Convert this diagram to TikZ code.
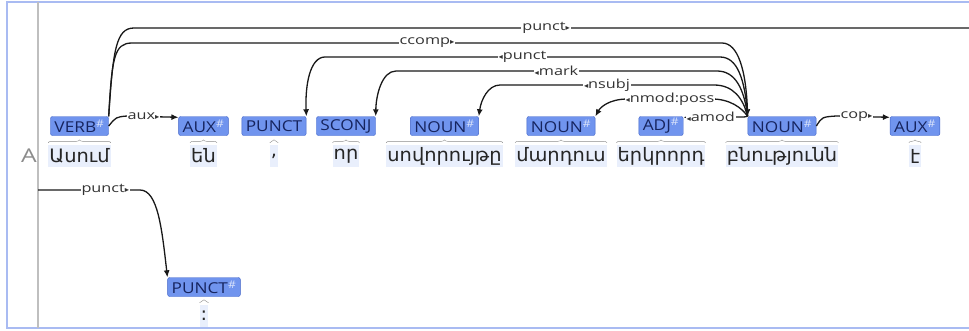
\documentclass[tikz,border=0pt]{standalone}
\usepackage{fontspec}
\setmainfont{Open Sans}[FakeStretch=1.3]
\newfontfamily\tagfont{Open Sans}[FakeStretch=1.15]
\newfontfamily\armfont{DejaVu Sans}[FakeStretch=1.05]
\usetikzlibrary{arrows.meta,decorations.pathreplacing}

\definecolor{tagfill}{HTML}{7094EE}
\definecolor{tagline}{HTML}{3F62C8}
\definecolor{tagtext}{HTML}{16245E}
\definecolor{wordbg}{HTML}{E9EFFC}
\definecolor{framec}{HTML}{A9BBF2}
\definecolor{deplbl}{HTML}{333333}

\newcommand{\hsh}{\textsuperscript{\color{white!75!tagfill}\#}}
\newcommand{\rdir}{{\armfont\footnotesize ▸}}
\newcommand{\ldir}{{\armfont\footnotesize ◂}}

\tikzset{
  tag/.style={draw=tagline, fill=tagfill, text=tagtext, rounded corners=2pt,
    font=\tagfont\fontsize{15}{15}\selectfont, inner xsep=4pt, inner ysep=0pt, minimum height=19pt},
  word/.style={fill=wordbg, text=black!85, font=\armfont\fontsize{18.5}{18.5}\selectfont,
    inner xsep=1pt, inner ysep=2pt, minimum height=22pt},
  wbrace/.style={draw=black!45, decorate, decoration={brace, amplitude=3pt}},
  dep/.style={draw=black!90, line width=1.3pt, -{Latex[length=7pt,width=6pt]}},
  lbl/.style={fill=white, text=deplbl, font=\fontsize{12.5}{12.5}\selectfont, inner sep=1pt},
}

\begin{document}
\begin{tikzpicture}[x=1pt, y=-1pt]
\useasboundingbox (0,0) rectangle (969,330);

% frame and row marker
\draw[framec, line width=1.2pt] (975,2) -- (7,2) -- (7,328) -- (975,328);
\draw[black!25, line width=2pt] (38,2) -- (38,328);
\node[text=black!45, font=\fontsize{19}{19}\selectfont] (rowA) at (29,156) {A};
\coordinate (rootL) at (38,190);
\coordinate (wrapR) at (975,28);

% tags
\node[tag] (verb) at (79.5,126) {VERB\hsh};
\node[tag] (auxA) at (203.5,126) {AUX\hsh};
\node[tag] (punct) at (274,126) {PUNCT};
\node[tag] (sconj) at (346,126) {SCONJ};
\node[tag] (noun1) at (444.5,126) {NOUN\hsh};
\node[tag] (noun2) at (561,126) {NOUN\hsh};
\node[tag] (adj) at (661,126) {ADJ\hsh};
\node[tag] (nounC) at (782,126) {NOUN\hsh};
\node[tag] (auxB) at (915,126) {AUX\hsh};
\node[tag] (punctB) at (204,287) {PUNCT\hsh};

% words
\foreach \t/\w in {verb/Ասում, auxA/են, punct/{,}, sconj/որ, noun1/սովորույթը,
    noun2/մարդուս, adj/երկրորդ, nounC/բնությունն, auxB/է}
  \node[word] (w\t) at (\t |- 0,156) {\w};
\node[word] (wpunctB) at (punctB |- 0,316) {:};
\foreach \t in {verb,auxA,punct,sconj,noun1,noun2,adj,nounC,auxB,punctB}
  \draw[wbrace] ([yshift=2pt]w\t.north west) -- ([yshift=2pt]w\t.north east);

% dependencies
\draw[dep, -] (verb.north east) .. controls (113,50) and (116,28) .. (134,28)
  -- node[lbl, pos=0.49]{punct\rdir} (wrapR);
\draw[dep] (verb.north east) .. controls (112,58) and (114,43) .. (132,43)
  -- node[lbl]{ccomp\rdir} (722,43) .. controls (738,43) and (746,70) .. (nounC.north west);
\draw[dep] (nounC.north west) .. controls (745,78) and (737,57) .. (720,57)
  -- node[lbl]{\ldir punct} (325,57) .. controls (310,57) and (305,85) .. (punct.north east);
\draw[dep] (nounC.north west) .. controls (744,88) and (735,71) .. (717,71)
  -- node[lbl]{\ldir mark} (396,71) .. controls (382,71) and (376,95) .. (sconj.north east);
\draw[dep] (nounC.north west) .. controls (743,98) and (733,85) .. (714,85)
  -- node[lbl]{\ldir nsubj} (500,85) .. controls (488,85) and (481,100) .. (noun1.north east);
\draw[dep] (nounC.north west) .. controls (742,108) and (730,99) .. (712,99)
  -- node[lbl]{\ldir nmod:poss} (628,99) .. controls (608,99) and (600,108) .. (noun2.north east);
\draw[dep] (nounC.north west) .. controls (745,117) .. (738,117)
  -- node[lbl]{\ldir amod} ([yshift=-1pt]adj.north east);
\draw[dep] (verb.east) .. controls (116,117) .. (127,116)
  -- node[lbl, pos=0.32]{aux\rdir} ([yshift=-1pt]auxA.north west);
\draw[dep] (nounC.east) .. controls (822,117) .. (836,116)
  -- node[lbl, pos=0.38]{cop\rdir} ([yshift=-1pt]auxB.north west);
\draw[dep] (rootL) -- node[lbl, pos=0.66]{punct\rdir} (140,190)
  .. controls (158,190) and (162,230) .. (punctB.north west);
\end{tikzpicture}
\end{document}
